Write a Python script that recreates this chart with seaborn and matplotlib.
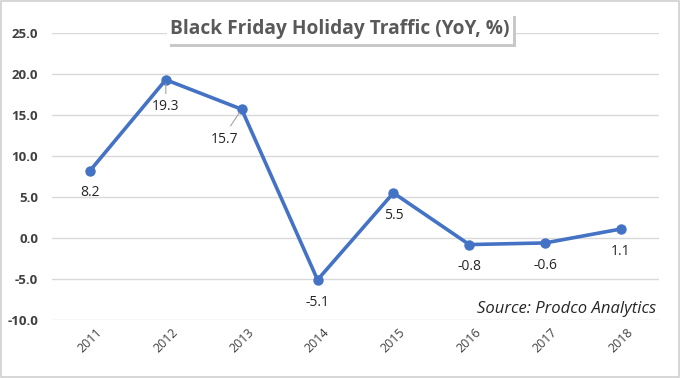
import pandas as pd
import matplotlib.pyplot as plt
import seaborn as sns
from matplotlib.patches import Rectangle

years = ["2011", "2012", "2013", "2014", "2015", "2016", "2017", "2018"]
traffic = [8.2, 19.3, 15.7, -5.1, 5.5, -0.8, -0.6, 1.1]
yticks = [-10, -5, 0, 5, 10, 15, 20, 25]

df = pd.DataFrame({"Year": years, "Traffic": traffic})

sns.set_style("white")
plt.rcParams["font.family"] = ["Open Sans", "DejaVu Sans"]

fig = plt.figure(figsize=(6.8, 3.78), dpi=100)
ax = fig.add_axes([0.0765, 0.1534, 0.8925, 0.7593])

sns.lineplot(data=df, x="Year", y="Traffic", ax=ax, color="#4472C4", linewidth=2.6,
             marker="o", markersize=7.5, markeredgewidth=0, sort=False)

ax.set_xlim(-0.5, len(years) - 0.5)
ax.set_ylim(-10, 25)
ax.set_yticks(yticks)
ax.set_yticklabels([f"{v:.1f}" for v in yticks], color="#404040", fontsize=9.5, fontweight="bold")
ax.set_xticks(range(len(years)))
ax.set_xticklabels(years, rotation=45, color="#404040", fontsize=9)
ax.tick_params(axis="both", length=0, pad=10)
ax.tick_params(axis="x", pad=4)
ax.grid(axis="y", color="#D9D9D9", linewidth=1)
ax.set_axisbelow(True)
for s in ax.spines.values():
    s.set_visible(False)
ax.set_xlabel("")
ax.set_ylabel("")

# data labels (offsets in points)
offsets = [(0, -16), (0, -19), (-12, -22), (0, -16), (0, -16), (0, -16), (0, -16), (0, -16)]
for i, (v, off) in enumerate(zip(traffic, offsets)):
    ax.annotate(f"{v:.1f}", (i, v), xytext=off, textcoords="offset points",
                ha="center", va="center", fontsize=10, color="#262626")
# leader lines
ax.annotate("", (1, 19.3), xytext=(0, -10), textcoords="offset points",
            arrowprops=dict(arrowstyle="-", color="#A6A6A6", lw=0.8, shrinkA=0, shrinkB=3))
ax.annotate("", (2, 15.7), xytext=(-8, -12), textcoords="offset points",
            arrowprops=dict(arrowstyle="-", color="#A6A6A6", lw=0.8, shrinkA=0, shrinkB=3))

ax.text(0.995, 0.012, "Source: Prodco Analytics", transform=ax.transAxes, ha="right",
        va="bottom", fontsize=12, style="italic", color="#262626")

# title box with shadow
fig.patches.append(Rectangle((167 / 680 + 0.004, 1 - 44 / 378 - 0.008), 346 / 680, 31 / 378,
                             transform=fig.transFigure, facecolor="#C8C8C8", edgecolor="none",
                             zorder=1))
fig.patches.append(Rectangle((167 / 680, 1 - 44 / 378), 346 / 680, 31 / 378,
                             transform=fig.transFigure, facecolor="white", edgecolor="none",
                             zorder=2))
fig.text(0.5, 1 - 29 / 378, "Black Friday Holiday Traffic (YoY, %)", ha="center", va="center",
         fontsize=13.8, fontweight="bold", color="#595959", zorder=3)

# outer border
fig.patches.append(Rectangle((0.002, 0.003), 0.996, 0.994, transform=fig.transFigure,
                             facecolor="none", edgecolor="#D0D0D0", linewidth=1.2))

fig.savefig("out.png", dpi=100)
